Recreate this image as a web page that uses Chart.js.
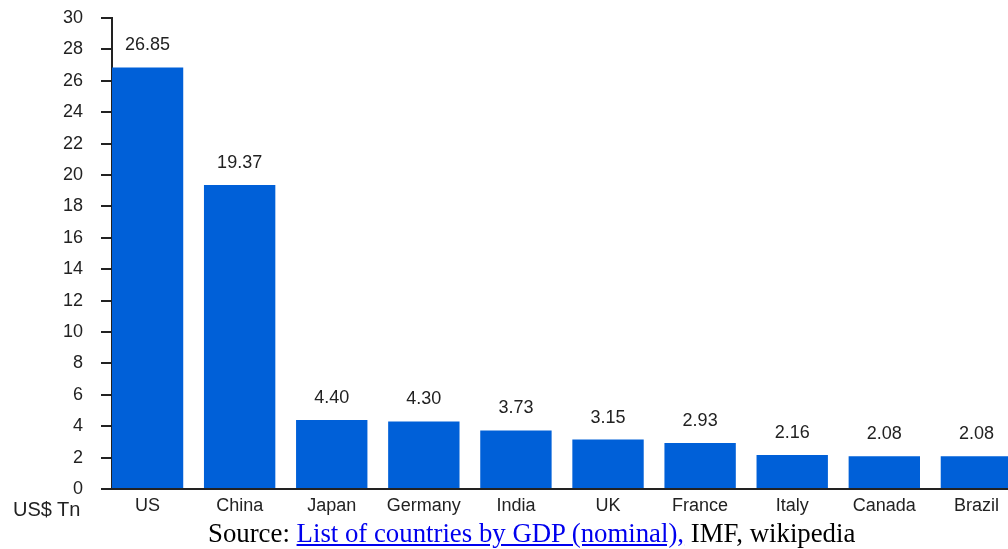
<!DOCTYPE html>
<html>
<head>
<meta charset="utf-8">
<script src="https://cdn.jsdelivr.net/npm/chart.js@4.4.1/dist/chart.umd.min.js"></script>
<style>
  html, body { margin: 0; padding: 0; background: #fff; overflow: hidden; }
  #wrap { position: relative; width: 1008px; height: 549px; }
  #gdpChart { position: absolute; left: 0; top: 0; }
  .unit {
    position: absolute; left: 13px; top: 498px; line-height: 1;
    font: 20px 'Liberation Sans', Arial, sans-serif; color: #222;
  }
  .source {
    position: absolute; left: 208px; top: 518px; line-height: 1;
    font: 26.8px 'Liberation Serif', 'Times New Roman', serif; color: #000;
    white-space: nowrap;
  }
  .source a { color: #0000ee; }
</style>
</head>
<body>
<div id="wrap">
  <canvas id="gdpChart" width="1008" height="549"></canvas>
  <div class="unit">US$ Tn</div>
  <div class="source">Source: <a href="#">List of countries by GDP (nominal),</a> IMF, wikipedia</div>
</div>
<script>
// ── Data ──────────────────────────────────────────
const countries = ['US', 'China', 'Japan', 'Germany', 'India', 'UK', 'France', 'Italy', 'Canada', 'Brazil'];
const gdpTn = [26.85, 19.37, 4.40, 4.30, 3.73, 3.15, 2.93, 2.16, 2.08, 2.08];
const yTicks = [0, 2, 4, 6, 8, 10, 12, 14, 16, 18, 20, 22, 24, 26, 28, 30];

const BAR_COLOR = '#0060d8';
const INK = '#222';
const sans = "'Liberation Sans', Arial, sans-serif";

// value labels above each bar
const valueLabels = {
  id: 'valueLabels',
  afterDatasetsDraw(chart) {
    const { ctx } = chart;
    const meta = chart.getDatasetMeta(0);
    ctx.save();
    ctx.font = '18px ' + sans;
    ctx.fillStyle = INK;
    ctx.textAlign = 'center';
    ctx.textBaseline = 'middle';
    meta.data.forEach((bar, i) => {
      ctx.fillText(gdpTn[i].toFixed(2), bar.x, bar.y - 22);
    });
    ctx.restore();
  }
};

new Chart(document.getElementById('gdpChart'), {
  type: 'bar',
  data: {
    datasets: [{
      data: countries.map((c, i) => ({ x: i, y: gdpTn[i] })),
      backgroundColor: BAR_COLOR,
      borderWidth: 0,
      categoryPercentage: 1,
      barPercentage: 0.775
    }]
  },
  options: {
    responsive: false,
    animation: false,
    layout: { padding: { top: 18, right: 0, left: 0, bottom: 0 } },
    plugins: { legend: { display: false }, tooltip: { enabled: false } },
    scales: {
      x: {
        type: 'linear',
        offset: false,
        min: -0.386,
        max: 9.343,
        afterBuildTicks: (axis) => { axis.ticks = countries.map((c, i) => ({ value: i })); },
        afterFit: (axis) => { axis.height = 60; axis.paddingLeft = 0; axis.paddingRight = 0; },
        grid: { display: false },
        border: { display: true, color: INK, width: 2 },
        ticks: {
          autoSkip: false,
          maxRotation: 0,
          padding: -2,
          color: INK,
          font: { size: 18, family: sans },
          callback: (v) => countries[v]
        }
      },
      y: {
        min: 0,
        max: 30,
        afterBuildTicks: (axis) => { axis.ticks = yTicks.map(v => ({ value: v })); },
        afterFit: (axis) => { axis.width = 112; axis.paddingTop = 0; axis.paddingBottom = 0; },
        grid: { drawOnChartArea: false, drawTicks: true, tickLength: 11, color: INK, lineWidth: 2 },
        border: { display: true, color: INK, width: 2 },
        ticks: {
          padding: 18,
          color: INK,
          font: { size: 18, family: sans }
        }
      }
    }
  },
  plugins: [valueLabels]
});
</script>
</body>
</html>
